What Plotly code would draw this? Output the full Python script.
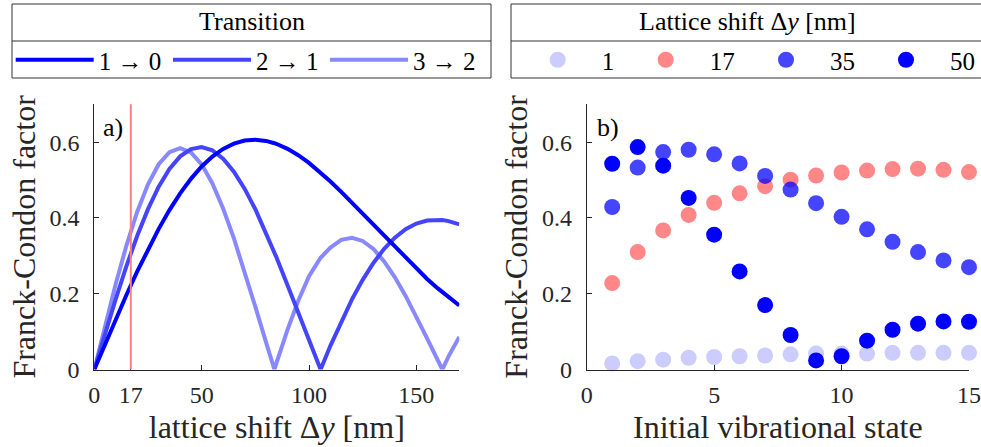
import plotly.graph_objects as go

# ---------------- data ----------------
# panel a): Franck-Condon factor vs lattice shift
shift_nm = [0, 5, 10, 15, 20, 25, 30, 35, 40, 45, 50, 55, 60, 65, 70, 75, 80, 83.9,
            85, 90, 95, 100, 105.4, 110, 115, 120, 125, 130, 135, 140, 145, 150,
            155, 160, 162.1, 165, 170]
fc_1_0 = [0, 0.0670, 0.1330, 0.1973, 0.2590, 0.3172, 0.3713, 0.4207, 0.4648, 0.5033,
          0.5358, 0.5622, 0.5823, 0.5963, 0.6043, 0.6065, 0.6033, 0.5973,
          0.5951, 0.5823, 0.5656, 0.5453, 0.5203, 0.4964, 0.4690, 0.4402, 0.4106,
          0.3807, 0.3509, 0.3215, 0.2929, 0.2652, 0.2389, 0.2140, 0.2042, 0.1906, 0.1689]
fc_2_1 = [0, 0.0945, 0.1864, 0.2734, 0.3530, 0.4233, 0.4826, 0.5293, 0.5626, 0.5819,
          0.5871, 0.5784, 0.5564, 0.5223, 0.4774, 0.4231, 0.3613, 0.3092,
          0.2938, 0.2226, 0.1495, 0.0765, 0.0, 0.0632, 0.1269, 0.1851, 0.2367,
          0.2813, 0.3185, 0.3481, 0.3703, 0.3852, 0.3933, 0.3953, 0.3944, 0.3916, 0.3830]
fc_3_2 = [0, 0.1155, 0.2263, 0.3280, 0.4166, 0.4887, 0.5417, 0.5738, 0.5842, 0.5731,
          0.5414, 0.4912, 0.4251, 0.3464, 0.2586, 0.1657, 0.0716, 0.0,
          0.0199, 0.1053, 0.1816, 0.2462, 0.2950, 0.3219, 0.3422, 0.3478, 0.3393,
          0.3180, 0.2854, 0.2434, 0.1941, 0.1396, 0.0821, 0.0238, 0.0, 0.0347, 0.0860]
marked_shift = 17
transition_names = ["1 → 0", "2 → 1", "3 → 2"]

# panel b): Franck-Condon factor vs initial vibrational state
state = list(range(1, 16))
fc_dy1 = [0.016, 0.022, 0.026, 0.031, 0.033, 0.035, 0.037, 0.040, 0.042, 0.042,
          0.042, 0.044, 0.044, 0.044, 0.044]
fc_dy17 = [0.228, 0.310, 0.367, 0.408, 0.440, 0.465, 0.484, 0.501, 0.512, 0.520,
           0.525, 0.529, 0.530, 0.527, 0.521]
fc_dy35 = [0.429, 0.533, 0.574, 0.580, 0.568, 0.544, 0.511, 0.475, 0.439, 0.403,
           0.370, 0.337, 0.310, 0.288, 0.270]
fc_dy50 = [0.543, 0.587, 0.538, 0.453, 0.356, 0.259, 0.170, 0.091, 0.024, 0.035,
           0.076, 0.105, 0.121, 0.127, 0.126]
shift_names = ["1", "17", "35", "50"]

x_ticks_a = [0, 17, 50, 100, 150]
x_ticks_b = [0, 5, 10, 15]
y_ticks = [0, 0.2, 0.4, 0.6]
y_tick_text = ["0", "0.2", "0.4", "0.6"]

# ---------------- styling ----------------
W, H = 981, 447
FONT = "Liberation Serif"
AX = "#262626"


def px(x):
    return x / W


def py(y):
    return 1 - y / H


line_colors = ["#0000ff", "#4444ff", "#8888ff"]
dot_colors = ["rgba(0,0,255,0.2)", "rgba(255,0,0,0.47)", "rgba(0,0,255,0.73)", "rgb(0,0,255)"]

fig = go.Figure()

# left panel curves (drawn light to dark so 1->0 is on top)
line_series = [fc_1_0, fc_2_1, fc_3_2]
legend_x_lines = [15.7, 173, 330]
for i in [2, 1, 0]:
    fig.add_trace(go.Scatter(
        x=shift_nm, y=line_series[i], mode="lines", name=transition_names[i],
        line=dict(color=line_colors[i], width=4),
        xaxis="x", yaxis="y", legend="legend" if i == 0 else f"legend{i + 1}"))

# right panel dots
dot_series = [fc_dy1, fc_dy17, fc_dy35, fc_dy50]
legend_x_dots = [557.7, 665.7, 786, 906]
for i, ys in enumerate(dot_series):
    fig.add_trace(go.Scatter(
        x=state, y=ys, mode="markers", name=shift_names[i],
        marker=dict(color=dot_colors[i], size=16, line=dict(width=0)),
        cliponaxis=False, xaxis="x2", yaxis="y2", legend=f"legend{i + 4}"))

legends = {}
for i, lx in enumerate(legend_x_lines):
    key = "legend" if i == 0 else f"legend{i + 1}"
    legends[key] = dict(x=px(lx - 5), xanchor="left", y=py(60), yanchor="middle",
                        orientation="h", bgcolor="rgba(0,0,0,0)", borderwidth=0,
                        itemwidth=78, font=dict(family=FONT, size=25, color="black"),
                        itemclick=False)
for i, lx in enumerate(legend_x_dots):
    legends[f"legend{i + 4}"] = dict(x=px(lx - 44), xanchor="left", y=py(60), yanchor="middle",
                                     orientation="h", bgcolor="rgba(0,0,0,0)", borderwidth=0,
                                     itemwidth=78, font=dict(family=FONT, size=25, color="black"),
                                     itemclick=False)

axis_common = dict(showline=True, linecolor=AX, linewidth=1, ticks="inside", ticklen=5,
                   tickcolor=AX, tickwidth=1, showgrid=False, zeroline=False, mirror=False,
                   automargin=False, tickfont=dict(family=FONT, size=24, color=AX))

ydom = [py(369.5), py(104.3)]
TITLE_SIZE = 32

fig.update_layout(
    width=W, height=H, margin=dict(l=0, r=0, t=0, b=0, autoexpand=False),
    paper_bgcolor="white", plot_bgcolor="white",
    font=dict(family=FONT, color=AX),
    xaxis=dict(domain=[px(94.3), px(459.3)], range=[0, 170], tickvals=x_ticks_a,
               ticklabelstandoff=4, anchor="y",
               title=dict(text="lattice shift Δ<i>y</i> [nm]", standoff=8,
                          font=dict(family=FONT, size=TITLE_SIZE, color=AX)), **axis_common),
    yaxis=dict(domain=ydom, range=[0, 0.7], tickvals=y_ticks, ticktext=y_tick_text,
               ticklabelstandoff=9, anchor="x",
               title=dict(text="Franck-Condon factor", standoff=4,
                          font=dict(family=FONT, size=TITLE_SIZE, color=AX)), **axis_common),
    xaxis2=dict(domain=[px(586.7), px(969)], range=[0, 15], tickvals=x_ticks_b,
                ticklabelstandoff=4, anchor="y2",
                title=dict(text="Initial vibrational state", standoff=8,
                           font=dict(family=FONT, size=TITLE_SIZE, color=AX)), **axis_common),
    yaxis2=dict(domain=ydom, range=[0, 0.7], tickvals=y_ticks, ticktext=y_tick_text,
                ticklabelstandoff=9, anchor="x2",
                title=dict(text="Franck-Condon factor", standoff=4,
                           font=dict(family=FONT, size=TITLE_SIZE, color=AX)), **axis_common),
    showlegend=True,
    **legends,
)

# marked lattice shift line
fig.add_shape(type="line", xref="x", yref="y domain", x0=marked_shift, x1=marked_shift,
              y0=0, y1=1, line=dict(color="#ff7f7f", width=2), layer="above")

# legend boxes
box_color = "#333333"
for x0, x1 in [(12, 491), (511, 990)]:
    fig.add_shape(type="rect", xref="paper", yref="paper", x0=px(x0), x1=px(x1),
                  y0=py(78), y1=py(4), line=dict(color=box_color, width=1))
    fig.add_shape(type="line", xref="paper", yref="paper", x0=px(x0), x1=px(x1),
                  y0=py(41), y1=py(41), line=dict(color=box_color, width=1))

fig.add_annotation(text="Transition", xref="paper", yref="paper", x=px(251.5), y=py(22),
                   xanchor="center", yanchor="middle", showarrow=False,
                   font=dict(family=FONT, size=26, color="black"))
fig.add_annotation(text="Lattice shift Δ<i>y</i> [nm]", xref="paper", yref="paper",
                   x=px(747.5), y=py(22), xanchor="center", yanchor="middle", showarrow=False,
                   font=dict(family=FONT, size=26, color="black"))

# panel labels
fig.add_annotation(text="a)", xref="paper", yref="paper", x=px(101), y=py(127),
                   xanchor="left", yanchor="middle", showarrow=False,
                   font=dict(family=FONT, size=26, color="black"))
fig.add_annotation(text="b)", xref="paper", yref="paper", x=px(595), y=py(127),
                   xanchor="left", yanchor="middle", showarrow=False,
                   font=dict(family=FONT, size=26, color="black"))

fig.write_html("out.html")
